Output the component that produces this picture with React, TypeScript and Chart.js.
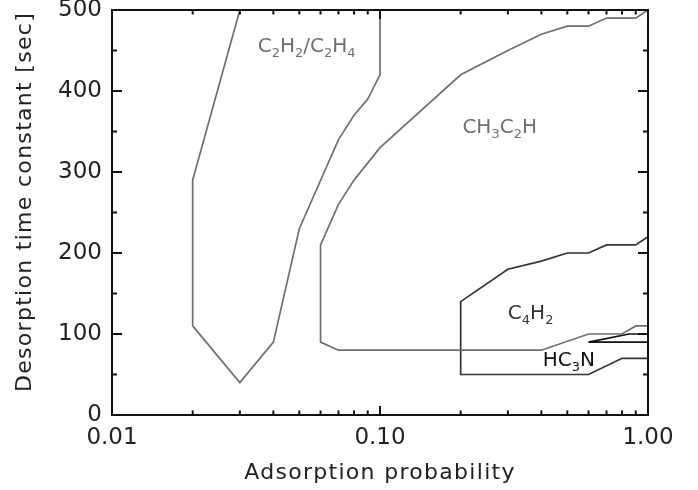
import React, { useEffect, useRef } from "react";
import { Chart, registerables } from "chart.js";

Chart.register(...registerables);

// Axis ticks
const xTickValues = [0.01, 0.1, 1];
const xTickLabels = ["0.01", "0.10", "1.00"];
const yTickValues = [0, 100, 200, 300, 400, 500];
const xTitle = "Adsorption probability";
const yTitle = "Desorption time constant [sec]";

// Contour: C2H2/C2H4
const c2h2X = [0.03, 0.02, 0.02, 0.03, 0.04, 0.05, 0.07, 0.08, 0.09, 0.1, 0.1];
const c2h2Y = [500, 290, 110, 40, 90, 230, 340, 370, 390, 420, 500];

// Contour: CH3C2H
const ch3X = [1.0, 0.9, 0.7, 0.6, 0.5, 0.4, 0.3, 0.2, 0.1, 0.08, 0.07, 0.06, 0.06, 0.07, 0.4, 0.6, 0.8, 0.9, 1.0];
const ch3Y = [500, 490, 490, 480, 480, 470, 450, 420, 330, 290, 260, 210, 90, 80, 80, 100, 100, 110, 110];

// Contour: C4H2
const c4h2X = [1.0, 0.9, 0.7, 0.6, 0.5, 0.4, 0.3, 0.2, 0.2, 0.6, 0.8, 1.0];
const c4h2Y = [220, 210, 210, 200, 200, 190, 180, 140, 50, 50, 70, 70];

// Contour: HC3N
const hc3nX = [1.0, 0.6, 0.85, 1.0];
const hc3nY = [90, 90, 100, 100];

// Labels: [text, isSubscript]
const labelC2H2: [string, boolean][] = [["C", false], ["2", true], ["H", false], ["2", true], ["/", false], ["C", false], ["2", true], ["H", false], ["4", true]];
const labelCH3: [string, boolean][] = [["CH", false], ["3", true], ["C", false], ["2", true], ["H", false]];
const labelC4H2: [string, boolean][] = [["C", false], ["4", true], ["H", false], ["2", true]];
const labelHC3N: [string, boolean][] = [["HC", false], ["3", true], ["N", false]];

const GRAY = "#6f6f6f";
const DARK = "#333333";
const BLACK = "#111111";
const FONT = "'DejaVu Sans', sans-serif";

const toPts = (xs: number[], ys: number[]) => xs.map((x, i) => ({ x, y: ys[i] }));

const annotations = [
  { parts: labelC2H2, x: 0.035, y: 448, color: GRAY },
  { parts: labelCH3, x: 0.203, y: 348, color: GRAY },
  { parts: labelC4H2, x: 0.3, y: 118, color: DARK },
  { parts: labelHC3N, x: 0.405, y: 60, color: BLACK },
];

const labelPlugin = {
  id: "formulaLabels",
  afterDatasetsDraw(chart: any) {
    const { ctx, scales } = chart;
    ctx.save();
    ctx.textBaseline = "alphabetic";
    ctx.textAlign = "left";
    for (const a of annotations) {
      let px = scales.x.getPixelForValue(a.x);
      const py = scales.y.getPixelForValue(a.y);
      ctx.fillStyle = a.color;
      for (const [t, sub] of a.parts) {
        ctx.font = sub ? `13px ${FONT}` : `20px ${FONT}`;
        ctx.fillText(t, px, sub ? py + 5 : py);
        px += ctx.measureText(t).width;
      }
    }
    ctx.restore();
  },
};

const titlePlugin = {
  id: "axisTitles",
  afterDraw(chart: any) {
    const { ctx, chartArea: a } = chart;
    ctx.save();
    ctx.fillStyle = "#222";
    ctx.font = `22px ${FONT}`;
    (ctx as any).letterSpacing = "1.3px";
    ctx.textAlign = "center";
    ctx.textBaseline = "alphabetic";
    ctx.fillText(xTitle, (a.left + a.right) / 2, 479);
    ctx.translate(31, 202);
    ctx.rotate(-Math.PI / 2);
    ctx.fillText(yTitle, 0, 0);
    ctx.restore();
  },
};

const framePlugin = {
  id: "frameTicks",
  afterDraw(chart: any) {
    const { ctx, chartArea: a, scales } = chart;
    const xs = scales.x;
    const ys = scales.y;
    ctx.save();
    ctx.strokeStyle = "#111";
    ctx.lineWidth = 2;
    ctx.beginPath();
    for (let d = 0; d < xTickValues.length; d++) {
      const base = xTickValues[d];
      for (let m = 1; m <= 9; m++) {
        const v = base * m;
        if (v > 1.0000001) break;
        const px = xs.getPixelForValue(v);
        const len = m === 1 ? 9 : 4.5;
        ctx.moveTo(px, a.bottom);
        ctx.lineTo(px, a.bottom - len);
        ctx.moveTo(px, a.top);
        ctx.lineTo(px, a.top + len);
      }
    }
    for (let v = 0; v <= 500; v += 50) {
      const py = ys.getPixelForValue(v);
      const len = v % 100 === 0 ? 10 : 5;
      ctx.moveTo(a.left, py);
      ctx.lineTo(a.left + len, py);
      ctx.moveTo(a.right, py);
      ctx.lineTo(a.right - len, py);
    }
    ctx.stroke();
    ctx.strokeRect(a.left, a.top, a.right - a.left, a.bottom - a.top);
    ctx.restore();
  },
};

export default function App() {
  const ref = useRef<HTMLCanvasElement | null>(null);

  useEffect(() => {
    document.body.style.margin = "0";
    if (!ref.current) return;
    const mk = (xs: number[], ys: number[], color: string) => ({
      data: toPts(xs, ys),
      showLine: true,
      borderColor: color,
      borderWidth: 1.7,
      pointRadius: 0,
      tension: 0,
      fill: false,
    });
    const chart = new Chart(ref.current, {
      type: "scatter",
      data: {
        datasets: [
          mk(c2h2X, c2h2Y, GRAY),
          mk(ch3X, ch3Y, GRAY),
          mk(c4h2X, c4h2Y, DARK),
          mk(hc3nX, hc3nY, BLACK),
        ],
      },
      options: {
        animation: false,
        responsive: false,
        layout: { padding: { top: 10, right: 50, left: 0, bottom: 0 } },
        plugins: { legend: { display: false }, tooltip: { enabled: false } },
        scales: {
          x: {
            type: "logarithmic",
            min: 0.01,
            max: 1,
            border: { display: false },
            grid: { display: false, drawTicks: false },
            afterBuildTicks: (scale: any) => {
              scale.ticks = xTickValues.map((v) => ({ value: v }));
            },
            afterFit: (scale: any) => {
              scale.height = 75;
              scale.paddingLeft = 0;
              scale.paddingRight = 0;
            },
            ticks: {
              padding: 9,
              color: "#222",
              font: { family: FONT, size: 23 },
              maxRotation: 0,
              autoSkip: false,
              callback: (v: any) => {
                const i = xTickValues.findIndex((t) => Math.abs(t - Number(v)) < 1e-9);
                return i >= 0 ? xTickLabels[i] : "";
              },
            },
          },
          y: {
            type: "linear",
            min: 0,
            max: 500,
            border: { display: false },
            grid: { display: false, drawTicks: false },
            afterBuildTicks: (scale: any) => {
              scale.ticks = yTickValues.map((v) => ({ value: v }));
            },
            afterFit: (scale: any) => {
              scale.width = 112;
              scale.paddingTop = 0;
              scale.paddingBottom = 0;
            },
            ticks: {
              padding: 10,
              color: "#222",
              font: { family: FONT, size: 23 },
              callback: (v: any) => String(v),
            },
          },
        },
      },
      plugins: [labelPlugin, titlePlugin, framePlugin],
    });
    return () => chart.destroy();
  }, []);

  return (
    <div style={{ position: "absolute", left: 0, top: 0, width: 698, height: 490 }}>
      <canvas ref={ref} width={698} height={490} style={{ display: "block" }} />
    </div>
  );
}
